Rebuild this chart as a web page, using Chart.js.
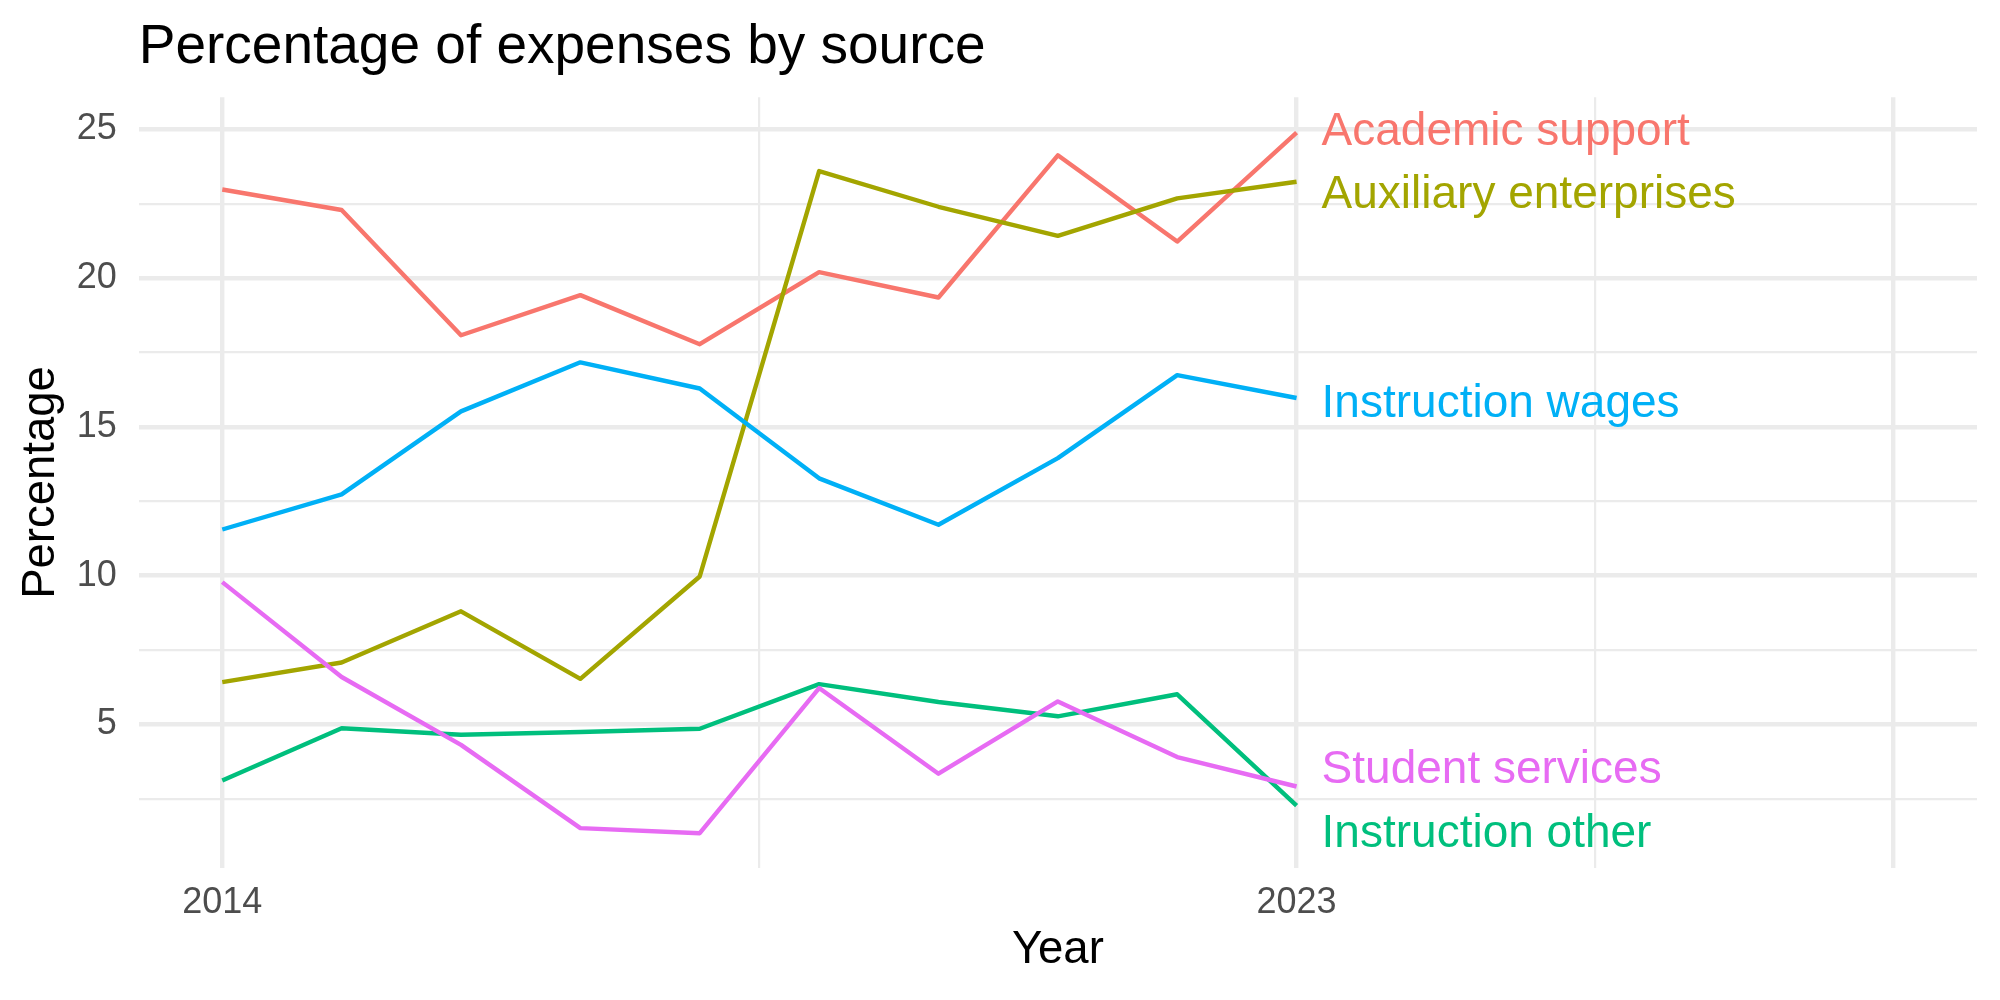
<!DOCTYPE html>
<html>
<head>
<meta charset="utf-8">
<title>Percentage of expenses by source</title>
<script src="https://cdn.jsdelivr.net/npm/chart.js@4.4.1/dist/chart.umd.min.js"></script>
<style>
  html, body { margin: 0; padding: 0; background: #ffffff; }
  canvas { display: block; }
</style>
</head>
<body>
<canvas id="myChart" width="2000" height="1000"></canvas>
<script>
// valores
const years = [2014, 2015, 2016, 2017, 2018, 2019, 2020, 2021, 2022, 2023];
const academicSupport = [22.98, 22.29, 18.08, 19.43, 17.78, 20.20, 19.35, 24.13, 21.23, 24.89];
const auxiliaryEnterprises = [6.42, 7.08, 8.80, 6.53, 9.97, 23.60, 22.40, 21.42, 22.68, 23.24];
const instructionOther = [3.11, 4.87, 4.65, 4.74, 4.85, 6.35, 5.75, 5.27, 6.01, 2.27];
const instructionWages = [11.55, 12.73, 15.52, 17.17, 16.29, 13.27, 11.71, 13.95, 16.74, 15.97];
const studentServices = [9.78, 6.59, 4.31, 1.51, 1.34, 6.22, 3.34, 5.77, 3.90, 2.91];

const seriesNames = ["Academic support", "Auxiliary enterprises", "Instruction other", "Instruction wages", "Student services"];
const seriesValues = [academicSupport, auxiliaryEnterprises, instructionOther, instructionWages, studentServices];
const seriesColors = ["#F8766D", "#A3A500", "#00BF7D", "#00B0F6", "#E76BF3"];

// ticks: mayores con linea gruesa, menores con linea fina
const xMajor = [2014, 2023, 2028];
const xMinor = [2018.5, 2025.5];
const xLabeled = [2014, 2023];
const yMajor = [5, 10, 15, 20, 25];
const yMinor = [2.5, 7.5, 12.5, 17.5, 22.5];

const chartTitle = "Percentage of expenses by source";
const fontFamily = "'Liberation Sans', Arial, Helvetica, sans-serif";

Chart.defaults.font.family = fontFamily;

const datasets = seriesNames.map((name, i) => {
  return {
    label: name,
    data: years.map((year, j) => ({ x: year, y: seriesValues[i][j] })),
    borderColor: seriesColors[i],
    backgroundColor: seriesColors[i],
    borderWidth: 4.4,
    pointRadius: 0,
    fill: false,
    order: seriesNames.length - i,
  };
});

// etiquetas al final de cada linea, separadas para que no se pisen
const etiquetasFinales = {
  id: "etiquetasFinales",
  afterDatasetsDraw(chart) {
    const ctx = chart.ctx;
    const items = chart.data.datasets.map((ds, i) => {
      const meta = chart.getDatasetMeta(i);
      const last = meta.data[meta.data.length - 1];
      return { text: ds.label, color: ds.borderColor, x: last.x, y: last.y, ly: last.y };
    });
    items.sort((a, b) => a.y - b.y);
    const gap = 63.5;
    for (let k = 0; k < 100; k++) {
      for (let i = 1; i < items.length; i++) {
        const d = gap - (items[i].ly - items[i - 1].ly);
        if (d > 0) {
          items[i - 1].ly -= d / 2;
          items[i].ly += d / 2;
        }
      }
    }
    ctx.save();
    ctx.font = "46px " + fontFamily;
    ctx.textAlign = "left";
    ctx.textBaseline = "middle";
    for (const it of items) {
      ctx.fillStyle = it.color;
      ctx.fillText(it.text, it.x + 25, it.ly + 6.5);
    }
    ctx.restore();
  },
};

const tituloPanel = {
  id: "tituloPanel",
  afterDraw(chart) {
    const ctx = chart.ctx;
    ctx.save();
    ctx.font = "55px " + fontFamily;
    ctx.fillStyle = "#000000";
    ctx.textAlign = "left";
    ctx.textBaseline = "alphabetic";
    ctx.fillText(chartTitle, chart.chartArea.left, 62.7);
    ctx.restore();
  },
};

const myChart = document.getElementById("myChart");
myChart.chart = new Chart(myChart, {
  type: "line",
  data: { datasets },
  plugins: [etiquetasFinales, tituloPanel],
  options: {
    responsive: false,
    animation: false,
    devicePixelRatio: 1,
    layout: { padding: { top: 97.3, right: 23, bottom: 0, left: 0 }, autoPadding: false },
    plugins: {
      legend: { display: false },
      tooltip: { enabled: false },
    },
    elements: {
      line: { tension: 0, borderJoinStyle: "round", borderCapStyle: "butt" },
      point: { radius: 0 },
    },
    scales: {
      x: {
        type: "linear",
        min: 2013.3,
        max: 2028.7,
        afterBuildTicks: (scale) => {
          scale.ticks = xMajor.concat(xMinor).sort((a, b) => a - b).map((v) => ({ value: v }));
        },
        afterFit: (scale) => {
          scale.height = 132.3;
        },
        border: { display: false },
        grid: {
          color: "#EBEBEB",
          drawTicks: false,
          lineWidth: (c) => (c.tick && xMajor.includes(c.tick.value) ? 4.4 : 2.2),
        },
        ticks: {
          autoSkip: false,
          maxRotation: 0,
          padding: 13.4,
          color: "#4D4D4D",
          font: { size: 36 },
          callback: (value) => (xLabeled.includes(value) ? String(value) : ""),
        },
        title: {
          display: true,
          text: "Year",
          color: "#000000",
          font: { size: 45.5 },
          padding: { top: 0, bottom: 22 },
        },
      },
      y: {
        type: "linear",
        min: 0.18,
        max: 26.08,
        afterBuildTicks: (scale) => {
          scale.ticks = yMajor.concat(yMinor).sort((a, b) => a - b).map((v) => ({ value: v }));
        },
        afterFit: (scale) => {
          scale.width = 138.7;
        },
        border: { display: false },
        grid: {
          color: "#EBEBEB",
          drawTicks: false,
          lineWidth: (c) => (c.tick && yMajor.includes(c.tick.value) ? 4.4 : 2.2),
        },
        ticks: {
          autoSkip: false,
          padding: 22,
          color: "#4D4D4D",
          font: { size: 36 },
          callback: (value) => (yMajor.includes(value) ? String(value) : ""),
        },
        title: {
          display: true,
          text: "Percentage",
          color: "#000000",
          font: { size: 45.5 },
          padding: { top: 14, bottom: 0 },
        },
      },
    },
  },
});
</script>
</body>
</html>
